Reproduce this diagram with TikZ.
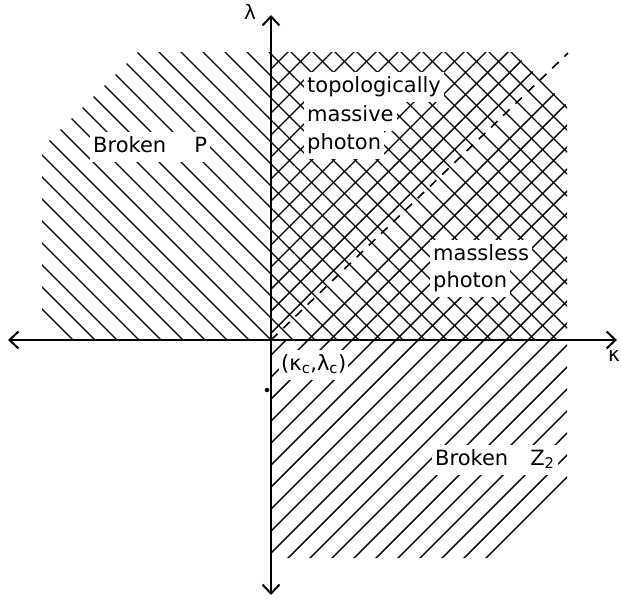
\documentclass[tikz,border=0pt]{standalone}
\usepackage{fontspec}
\setmainfont{DejaVu Sans}
\usetikzlibrary{arrows.meta}

\begin{document}
\begin{tikzpicture}[x=1pt, y=-1pt,
    hatch/.style={line width=1.4pt},
    axis/.style={line width=2pt, {Straight Barb[length=9pt,width=17pt]}-{Straight Barb[length=9pt,width=17pt]}},
    region/.style={font=\fontsize{21}{25}\selectfont, fill=white, inner xsep=3pt, inner ysep=5pt, text height=15pt, text depth=5pt, anchor=base west},
    axislabel/.style={font=\fontsize{20}{24}\selectfont, inner sep=0pt},
]
\useasboundingbox (0,0) rectangle (621,603);

% descending hatching (Broken P and the upper right quadrant)
\begin{scope}
  \clip (42,148) -- (138,52) -- (513,52) -- (567,106) -- (567,340) -- (42,340) -- cycle;
  \foreach \k in {-9,...,24}
    \draw[hatch] ({-69+22*\k},0) -- ({-69+22*\k+603},603);
\end{scope}

% ascending hatching
\begin{scope}
  \clip (271,52) -- (513,52) -- (567,106) -- (567,340) -- (271,340) -- cycle;
  \foreach \k in {-13,...,19}{
    \ifnum\k=0 \else
      \draw[hatch] ({626+22*\k},0) -- ({626+22*\k-603},603);
    \fi}
\end{scope}
\begin{scope}
  \clip (271,340) -- (567,340) -- (567,479) -- (488,558) -- (271,558) -- cycle;
  \foreach \k in {0,...,19}
    \draw[hatch] ({626+22*\k},0) -- ({626+22*\k-603},603);
\end{scope}

\coordinate (O) at (271,340);
\coordinate (top) at (271,15);
\coordinate (bottom) at (271,595);
\coordinate (left) at (8,340);
\coordinate (right) at (617,340);
\coordinate (corner) at (568,53);

\draw[hatch, line width=1.6pt, dash pattern=on 9pt off 8pt] (O) -- (corner);

% region labels
\node[region] (brokenP) at (90,152) {Broken\hspace{28pt}P};
\node[region] (topo) at (304,92) {topologically};
\node[region] (massive) at (304,121) {massive};
\node[region] (photonA) at (304,149) {photon};
\node[region] (massless) at (430,260) {massless};
\node[region] (photonB) at (430,287) {photon};
\node[region] (brokenZ) at (432,465) {Broken\hspace{22pt}Z\textsubscript{2}};
\node[region, inner xsep=2pt] (crit) at (279,370) {(κ\textsubscript{c},λ\textsubscript{c})};
\node[circle, fill, inner sep=1.6pt] (dot) at (267,390) {};

% axes
\draw[axis] (left) -- (right);
\draw[axis] (bottom) -- (top);
\node[axislabel] (lambda) at (250,12) {λ};
\node[axislabel] (kappa) at (614,356) {κ};

\end{tikzpicture}
\end{document}
